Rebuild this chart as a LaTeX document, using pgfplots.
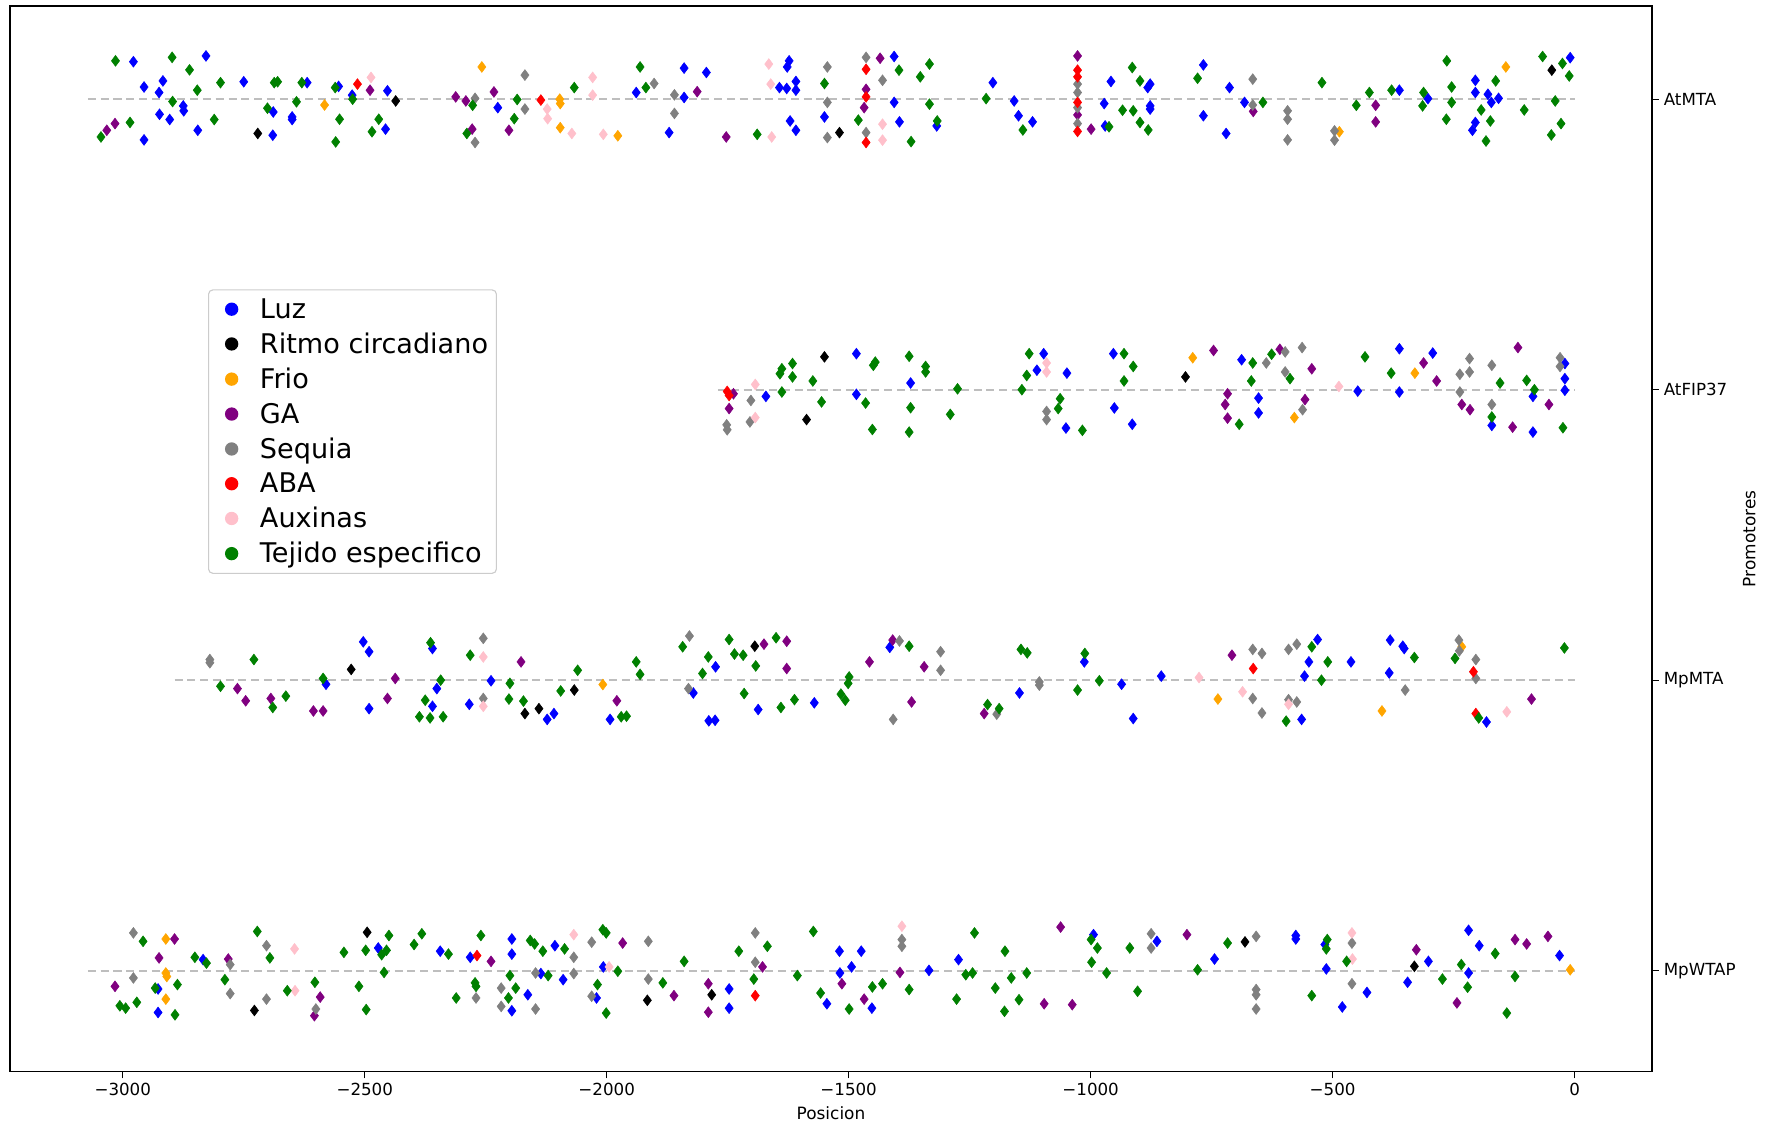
\documentclass[border=0pt]{standalone}
\usepackage{fontspec}
\setmainfont{DejaVu Sans}
\usepackage{pgfplots}
\pgfplotsset{compat=1.18}
\definecolor{mblue}{RGB}{0,0,255}
\definecolor{mblack}{RGB}{0,0,0}
\definecolor{morange}{RGB}{255,165,0}
\definecolor{mpurple}{RGB}{128,0,128}
\definecolor{mgray}{RGB}{128,128,128}
\definecolor{mred}{RGB}{255,0,0}
\definecolor{mpink}{RGB}{255,192,203}
\definecolor{mgreen}{RGB}{0,128,0}
\definecolor{dashgray}{RGB}{190,190,190}
\begin{document}
\begin{tikzpicture}
\begin{axis}[
  name=ax,
  scale only axis,
  width=1182pt, height=767pt,
  xmin=-3233, xmax=160,
  ymin=-0.347, ymax=3.321,
  axis line style={line width=0.8pt},
  xtick={-3000,-2500,-2000,-1500,-1000,-500,0},
  xticklabels={−3000,−2500,−2000,−1500,−1000,−500,0},
  ytick={0,1,2,3},
  yticklabels={MpWTAP,MpMTA,AtFIP37,AtMTA},
  xtick pos=bottom, ytick pos=right, yticklabel pos=right,
  tick align=outside, major tick length=5pt,
  tick style={line width=0.8pt, black},
  tick label style={font=\fontsize{12}{14}\selectfont},
  xlabel={Posicion}, ylabel={Promotores},
  every axis x label/.style={at={(rel axis cs:0.5,0)}, anchor=center, yshift=-30pt, font=\fontsize{12.2}{14}\selectfont},
  every axis y label/.style={at={(rel axis cs:1,0.5)}, anchor=center, xshift=70pt, rotate=90, font=\fontsize{12.2}{14}\selectfont},
  legend cell align=left,
  legend style={at={(rel axis cs:0.1206,0.734)}, anchor=north west,
    font=\fontsize{19.5}{23}\selectfont, draw=black!20, rounded corners=3pt,
    line width=0.8pt, row sep=5pt, inner sep=4pt},
  legend image code/.code={\path[draw=none,fill=none] (0pt,0pt) -- (31pt,0pt); \fill[#1,draw=none] (12.6pt,0pt) circle (4.8pt);},
  every mark/.append style={xscale=0.88},
  mark size=3.9pt,
]
\addplot[forget plot, dashgray, line width=1.5pt, dash pattern=on 5.8pt off 3.4pt] coordinates {(-3072,3) (0,3)};
\addplot[forget plot, dashgray, line width=1.5pt, dash pattern=on 5.8pt off 3.4pt] coordinates {(-1770,2) (0,2)};
\addplot[forget plot, dashgray, line width=1.5pt, dash pattern=on 5.8pt off 3.4pt] coordinates {(-2893,1) (0,1)};
\addplot[forget plot, dashgray, line width=1.5pt, dash pattern=on 5.8pt off 3.4pt] coordinates {(-3072,0) (0,0)};
% Luz
\addplot[only marks, mark=diamond*, color=mblue] table {
x y
-2978 3.129
-2828 3.149
-2956 3.042
-2917 3.063
-2925 3.023
-2750 3.060
-2875 2.977
-2874 2.960
-2924 2.948
-2903 2.930
-2956 2.860
-2845 2.893
-2689 2.956
-2690 2.876
-2650 2.930
-2650 2.939
-2619 3.057
-2554 3.044
-2526 3.014
-2453 3.029
-2457 2.897
-2225 2.971
-1939 3.023
-1840 3.107
-1794 3.092
-1840 3.006
-1871 2.885
-1623 3.132
-1627 3.111
-1643 3.040
-1628 3.037
-1609 3.061
-1609 3.031
-1621 2.925
-1609 2.893
-1550 2.939
-1406 3.147
-1406 2.989
-1395 2.922
-1318 2.908
-1202 3.057
-1158 2.994
-1149 2.943
-1120 2.922
-958 3.061
-972 2.985
-970 2.908
-882 3.040
-877 3.052
-877 2.977
-877 2.966
-767 3.118
-767 2.943
-713 3.040
-682 2.989
-720 2.882
-362 3.031
-303 3.002
-205 3.065
-205 3.023
-179 3.017
-172 2.989
-157 3.003
-205 2.920
-211 2.893
-9 3.143
-1671 1.977
-1484 2.124
-1484 1.984
-1372 2.023
-1097 2.124
-1111 2.067
-1049 2.057
-1051 1.868
-953 2.124
-951 1.937
-914 1.881
-688 2.103
-653 1.971
-653 1.920
-448 1.995
-362 2.141
-362 1.992
-293 2.126
-171 1.877
-86 1.977
-86 1.854
-20 2.090
-20 2.038
-20 1.998
-2580 0.986
-2503 1.132
-2491 1.098
-2491 0.902
-2360 1.109
-2351 0.971
-2360 0.910
-2239 0.998
-2284 0.917
-2123 0.865
-2109 0.885
-1993 0.865
-1775 1.046
-1821 0.956
-1789 0.860
-1776 0.862
-1687 0.899
-1571 0.922
-1415 1.113
-1147 0.956
-1013 1.063
-936 0.986
-912 0.868
-854 1.014
-564 0.865
-531 1.140
-549 1.063
-558 1.014
-462 1.063
-381 1.138
-355 1.117
-352 1.109
-383 1.025
-182 0.856
-2927 -0.063
-2927 -0.144
-2834 0.038
-2472 0.078
-2344 0.067
-2282 0.046
-2196 0.109
-2196 0.057
-2196 -0.138
-2107 0.086
-2136 -0.010
-2163 -0.083
-2090 -0.031
-2007 0.013
-2021 -0.094
-1747 -0.063
-1747 -0.129
-1545 -0.114
-1519 0.067
-1494 0.013
-1518 -0.008
-1474 0.067
-1452 -0.129
-1334 0.001
-1273 0.038
-994 0.124
-863 0.101
-744 0.040
-576 0.121
-576 0.109
-516 0.090
-513 0.006
-429 -0.075
-480 -0.125
-345 -0.040
-302 0.032
-219 -0.008
-219 0.139
-197 0.086
-31 0.052
};
\addlegendentry{Luz}
% Ritmo circadiano
\addplot[only marks, mark=diamond*, color=mblack] table {
x y
-2721 2.882
-2436 2.994
-1519 2.885
-47 3.100
-1550 2.113
-1587 1.897
-804 2.044
-2528 1.037
-2169 0.885
-2140 0.902
-2067 0.966
-1694 1.117
-2728 -0.137
-2495 0.132
-1916 -0.102
-1783 -0.083
-681 0.099
-331 0.015
};
\addlegendentry{Ritmo circadiano}
% Frio
\addplot[only marks, mark=diamond*, color=morange] table {
x y
-2583 2.980
-2258 3.111
-2097 3.000
-2096 2.985
-2096 2.902
-1977 2.874
-486 2.888
-142 3.111
-789 2.110
-579 1.904
-330 2.057
-2008 0.985
-737 0.935
-398 0.894
-233 1.115
-2911 0.109
-2911 -0.008
-2909 -0.020
-2911 -0.098
-9 0.003
};
\addlegendentry{Frio}
% GA
\addplot[only marks, mark=diamond*, color=mpurple] table {
x y
-3016 2.916
-3033 2.893
-2489 3.031
-2312 3.008
-2291 2.994
-2278 2.897
-2233 3.025
-2202 2.893
-1813 3.026
-1753 2.870
-1464 3.034
-1468 2.971
-1435 3.141
-1027 3.149
-1027 2.946
-999 2.897
-664 2.958
-411 2.979
-411 2.922
-1738 1.986
-1747 1.935
-746 2.135
-717 1.986
-722 1.949
-717 1.902
-609 2.139
-543 2.072
-557 1.966
-312 2.092
-285 2.030
-233 1.949
-216 1.931
-128 1.871
-117 2.145
-53 1.949
-2763 0.971
-2746 0.929
-2694 0.937
-2606 0.894
-2586 0.894
-2437 1.006
-2453 0.937
-2177 1.063
-1979 0.929
-1675 1.124
-1628 1.134
-1628 1.040
-1457 1.063
-1409 1.138
-1344 1.046
-1370 0.925
-1220 0.885
-708 1.086
-89 0.935
-2893 0.109
-2925 0.044
-3016 -0.054
-2782 0.040
-2592 -0.091
-2604 -0.155
-2239 0.032
-1967 0.095
-1861 -0.086
-1790 -0.045
-1790 -0.143
-1678 0.013
-1514 -0.045
-1468 -0.098
-1394 -0.006
-1096 -0.114
-1062 0.150
-1038 -0.117
-801 0.124
-327 0.072
-243 -0.111
-123 0.107
-99 0.092
-55 0.118
};
\addlegendentry{GA}
% Sequia
\addplot[only marks, mark=diamond*, color=mgray] table {
x y
-2272 3.003
-2272 2.851
-2169 3.083
-2169 2.966
-1902 3.054
-1860 3.015
-1860 2.951
-1544 3.111
-1544 2.989
-1544 2.868
-1464 3.144
-1430 3.065
-1464 2.885
-1027 3.052
-1027 3.023
-1027 2.971
-1027 2.916
-665 3.069
-665 2.980
-593 2.960
-593 2.931
-593 2.860
-496 2.891
-496 2.859
-1752 1.879
-1751 1.862
-1702 1.963
-1704 1.889
-1091 1.925
-1091 1.897
-637 2.092
-598 2.130
-563 2.145
-598 2.061
-562 1.931
-237 2.053
-217 2.107
-217 2.061
-237 1.992
-171 2.084
-171 1.949
-30 2.110
-30 2.080
-2820 1.071
-2820 1.060
-2255 1.144
-2255 0.937
-1829 1.152
-1831 0.971
-1395 1.135
-1310 1.098
-1310 1.034
-1408 0.865
-1194 0.883
-1106 0.994
-1106 0.983
-665 1.106
-646 1.092
-665 0.937
-646 0.887
-591 1.106
-574 1.124
-591 0.933
-574 0.925
-350 0.966
-239 1.138
-238 1.101
-204 1.071
-204 1.006
-2978 0.130
-2978 -0.025
-2778 0.021
-2778 -0.079
-2703 0.086
-2703 -0.098
-2601 -0.132
-2270 -0.094
-2218 -0.060
-2218 -0.123
-2147 -0.008
-2147 -0.132
-2068 0.046
-2068 -0.010
-2031 0.098
-2031 -0.088
-1914 0.101
-1914 -0.029
-1693 0.130
-1693 0.029
-1390 0.107
-1390 0.084
-875 0.127
-875 0.078
-658 0.118
-658 -0.065
-658 -0.083
-658 -0.132
-460 0.095
-460 -0.045
};
\addlegendentry{Sequia}
% ABA
\addplot[only marks, mark=diamond*, color=mred] table {
x y
-2515 3.052
-2136 2.997
-1464 3.103
-1464 3.008
-1464 2.851
-1027 3.100
-1027 3.077
-1027 2.989
-1027 2.889
-1751 1.994
-1747 1.980
-664 1.040
-209 1.029
-204 0.885
-2268 0.052
-1693 -0.086
};
\addlegendentry{ABA}
% Auxinas
\addplot[only marks, mark=diamond*, color=mpink] table {
x y
-2487 3.075
-2123 2.966
-2122 2.933
-2072 2.882
-2029 3.075
-2029 3.014
-2007 2.879
-1659 2.870
-1665 3.121
-1661 3.052
-1430 2.914
-1430 2.859
-1693 2.018
-1693 1.904
-1091 2.092
-1091 2.061
-487 2.011
-2255 1.080
-2255 0.910
-776 1.009
-686 0.960
-591 0.917
-140 0.891
-2645 0.075
-2644 -0.069
-2068 0.124
-1995 0.013
-1390 0.153
-460 0.130
-459 0.040
};
\addlegendentry{Auxinas}
% Tejido especifico
\addplot[only marks, mark=diamond*, color=mgreen] table {
x y
-3015 3.132
-2898 3.144
-2862 3.101
-2846 3.031
-2798 3.057
-2897 2.992
-2811 2.930
-2985 2.920
-3045 2.870
-2687 3.057
-2680 3.060
-2701 2.969
-2630 3.057
-2641 2.991
-2561 3.040
-2552 2.931
-2560 2.853
-2525 3.000
-2471 2.931
-2485 2.888
-2277 2.979
-2289 2.882
-2185 2.999
-2191 2.933
-2067 3.040
-1931 3.111
-1919 3.040
-1689 2.879
-1550 3.054
-1480 2.928
-1396 3.100
-1333 3.121
-1352 3.077
-1333 2.983
-1317 2.925
-1371 2.854
-1216 3.002
-1140 2.894
-962 2.905
-914 3.109
-898 3.063
-934 2.962
-912 2.960
-898 2.920
-881 2.894
-779 3.072
-644 2.989
-522 3.057
-451 2.979
-424 3.023
-378 3.031
-312 3.023
-314 2.977
-264 3.132
-254 3.042
-254 2.989
-265 2.931
-163 3.063
-193 2.963
-174 2.925
-183 2.856
-104 2.963
-66 3.147
-25 3.123
-11 3.080
-40 2.994
-28 2.916
-48 2.877
-1642 2.055
-1638 2.072
-1616 2.090
-1616 2.044
-1638 1.992
-1574 2.030
-1556 1.958
-1449 2.084
-1445 2.095
-1465 1.954
-1451 1.863
-1375 2.115
-1341 2.080
-1341 2.061
-1372 1.938
-1375 1.854
-1275 2.003
-1290 1.915
-1127 2.124
-1132 2.049
-1142 2.000
-1063 1.969
-1067 1.935
-1017 1.860
-931 2.124
-912 2.080
-931 2.030
-693 1.881
-665 2.092
-668 2.030
-626 2.122
-588 2.038
-433 2.113
-379 2.057
-154 2.023
-171 1.906
-99 2.032
-83 2.000
-24 1.869
-2798 0.979
-2729 1.071
-2690 0.906
-2663 0.945
-2586 1.006
-2364 1.129
-2343 1.000
-2375 0.931
-2387 0.874
-2365 0.870
-2338 0.874
-2282 1.086
-2200 0.989
-2202 0.935
-2172 0.928
-2095 0.963
-2060 1.034
-1970 0.874
-1959 0.876
-1939 1.063
-1931 1.020
-1843 1.115
-1790 1.080
-1802 1.023
-1747 1.140
-1736 1.090
-1718 1.086
-1650 1.146
-1692 1.049
-1716 0.954
-1640 0.906
-1612 0.933
-1499 1.011
-1501 0.989
-1516 0.952
-1507 0.931
-1375 1.117
-1213 0.916
-1189 0.902
-1144 1.106
-1131 1.094
-1012 1.092
-1027 0.966
-982 0.998
-596 0.859
-543 1.115
-510 1.063
-523 1.000
-331 1.078
-247 1.075
-198 0.870
-21 1.111
-2958 0.101
-2933 -0.060
-2887 -0.048
-3006 -0.121
-2994 -0.129
-2971 -0.109
-2892 -0.152
-2851 0.046
-2827 0.026
-2789 -0.031
-2722 0.135
-2696 0.044
-2660 -0.069
-2603 -0.040
-2543 0.063
-2512 -0.054
-2498 0.070
-2450 0.121
-2455 0.070
-2465 0.055
-2460 -0.006
-2497 -0.134
-2398 0.090
-2382 0.127
-2327 0.057
-2311 -0.094
-2260 0.121
-2272 -0.042
-2270 -0.054
-2200 -0.017
-2188 -0.060
-2203 -0.094
-2158 0.104
-2149 0.092
-2132 0.067
-2087 0.075
-2121 -0.017
-2008 0.141
-2001 0.130
-1977 -0.002
-2019 -0.048
-2001 -0.146
-1884 -0.042
-1840 0.032
-1727 0.067
-1668 0.084
-1696 -0.029
-1606 -0.017
-1573 0.135
-1558 -0.077
-1499 -0.132
-1451 -0.056
-1430 -0.045
-1375 -0.065
-1240 0.130
-1258 -0.014
-1244 -0.008
-1277 -0.098
-1177 0.067
-1197 -0.060
-1164 -0.025
-1132 -0.008
-1148 -0.100
-1178 -0.140
-999 0.107
-986 0.078
-998 0.029
-967 -0.008
-919 0.078
-903 -0.071
-779 0.003
-717 0.095
-511 0.107
-513 0.075
-471 0.032
-543 -0.086
-273 -0.029
-234 0.021
-221 -0.057
-164 0.059
-123 -0.020
-140 -0.146
};
\addlegendentry{Tejido especifico}
\end{axis}
\pgfresetboundingbox
\path[use as bounding box] ([xshift=-7.2pt,yshift=-39.6pt]ax.south west) rectangle ([xshift=82.8pt,yshift=4.3pt]ax.north east);
\end{tikzpicture}
\end{document}
